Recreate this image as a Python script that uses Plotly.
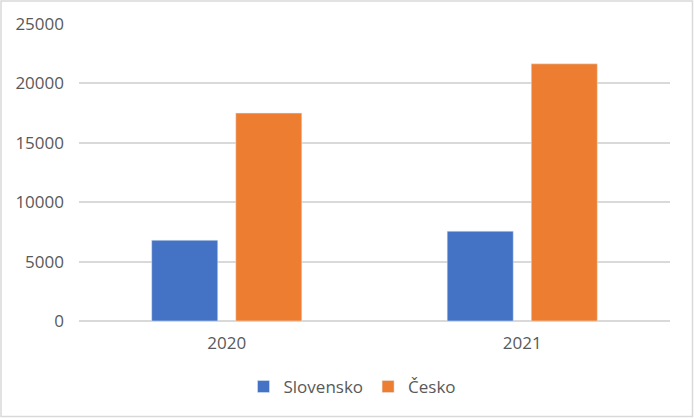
import plotly.graph_objects as go

years = ["2020", "2021"]
slovensko = [6800, 7560]
cesko = [17500, 21650]
y_ticks = [0, 5000, 10000, 15000, 20000, 25000]
y_tick_text = ["0", "5000", "10000", "15000", "20000", "25000"]

W, H = 694, 418
L, R, T, B = 79, 24, 24, 97

fig = go.Figure()
fig.add_trace(go.Bar(x=years, y=slovensko, name="Slovensko", marker_color="#4472C4"))
fig.add_trace(go.Bar(x=years, y=cesko, name="Česko", marker_color="#ED7D31"))

# outer chart border (Excel-style frame)
pw, ph = W - L - R, H - T - B
fig.add_shape(
    type="rect", xref="paper", yref="paper",
    x0=(1 - L) / pw, x1=1 + (R - 1.5) / pw,
    y0=-(B - 1.5) / ph, y1=1 + (T - 1) / ph,
    line=dict(color="#d9d9d9", width=1.5), fillcolor="rgba(0,0,0,0)",
)

fig.update_layout(
    width=W, height=H,
    margin=dict(l=L, r=R, t=T, b=B, autoexpand=False),
    plot_bgcolor="white", paper_bgcolor="white",
    font=dict(family="Open Sans", size=17, color="#595959"),
    barmode="group", bargap=0.431, bargroupgap=0.214,
    showlegend=True,
    legend=dict(orientation="h", x=0.5 - 22 / pw, xanchor="center", yref="container",
                y=(H - 387) / H, yanchor="middle",
                font=dict(size=17, color="#595959")),
    xaxis=dict(showline=False, ticks="", ticklabelstandoff=10, automargin=False),
    yaxis=dict(range=[0, 25000], tickvals=y_ticks, ticktext=y_tick_text,
               showgrid=True, gridcolor="#d9d9d9", gridwidth=1.5,
               zeroline=True, zerolinecolor="#d9d9d9", zerolinewidth=1.5,
               showline=False, ticks="", ticklabelstandoff=14, automargin=False),
)

# drop the default 8px body margin so the chart sits at the window origin
fig.write_html("out.html", config={"displayModeBar": False},
               post_script="document.body.style.margin='0';")
